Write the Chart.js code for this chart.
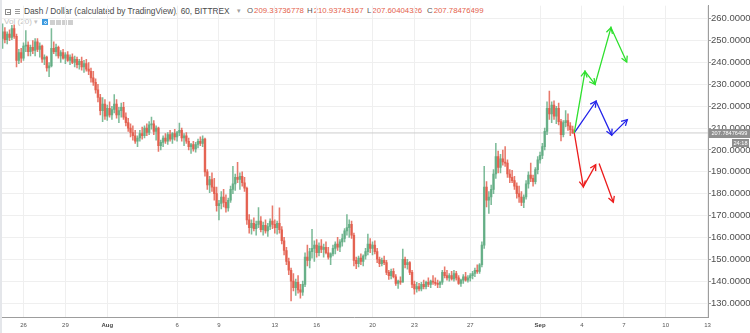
<!DOCTYPE html>
<html>
<head>
<meta charset="utf-8">
<title>Dash / Dollar, 60, BITTREX</title>
<script src="https://cdn.jsdelivr.net/npm/chart.js@4.4.1/dist/chart.umd.min.js"></script>
<style>
  html, body { margin: 0; padding: 0; background: #ffffff; }
  #frame { position: relative; width: 750px; height: 333px; overflow: hidden;
           font-family: "Liberation Sans", Arial, sans-serif; }
  #legend { position: absolute; left: 0; top: 0; width: 750px; height: 40px; z-index: 0; }
  #chartBox { position: absolute; left: 0; top: 0; width: 750px; height: 333px; z-index: 1; }
  #edge { position: absolute; left: 0; top: 0; width: 2px; height: 333px; background: #e4e6ea; z-index: 2; }
  .t { position: absolute; white-space: nowrap; font-size: 8.1px; line-height: 10px; }
  .title { font-size: 8.3px; }
  .v { font-size: 7.8px; }
  .box { position: absolute; box-sizing: border-box; }
</style>
</head>
<body>
<div id="frame">
  <div id="legend">
    <div class="box" style="left:5px;top:9px;width:6px;height:6px;border:1px solid #8c8c8c;"></div>
    <div class="box" style="left:6.5px;top:11.5px;width:3px;height:1px;background:#8c8c8c;"></div>
    <div class="box" style="left:15px;top:9px;width:5px;height:6px;background:repeating-linear-gradient(#9a9a9a 0 1px, transparent 1px 2px);"></div>
    <div class="t title" style="left:24px;top:6px;color:#4b4b4b;">Dash / Dollar (calculated by TradingView), 60, BITTREX</div>
    <div class="t" style="left:237px;top:6px;color:#a0a0a0;font-size:7px;">▾</div>
    <div id="ohlc"></div>
    <div class="t" style="left:4px;top:17px;color:#c4c4c4;">Vol (20) <span style="font-size:7px">▾</span></div>
    <div class="box" style="left:42px;top:19px;width:6px;height:6px;background:#3d9be0;"></div>
    <div class="box" style="left:43.5px;top:20.5px;width:3px;height:3px;border-radius:50%;border:1px solid #ffffff;"></div>
    <div class="box" style="left:50px;top:20px;width:5px;height:5px;background:#cfcfcf;"></div>
    <div class="box" style="left:56px;top:20px;width:5px;height:5px;background:#cfcfcf;"></div>
    <div class="box" style="left:62px;top:20px;width:5px;height:5px;background:#cfcfcf;"></div>
    <div class="box" style="left:68px;top:20px;width:5px;height:5px;background:#cfcfcf;"></div>
  </div>
  <div id="chartBox"><canvas id="chart" width="750" height="333"></canvas></div>
  <div id="edge"></div>
</div>
<script>
// Hourly DASH/USD summarised as 4-hour candles, 24 Jul 12:00 to 3 Sep 08:00.
// Time is measured in days from 26 Jul 00:00.
const firstCandleDay = -1.5;
const candleStepDays = 4 / 24;
const firstOpen = 251;

const closes = [
  254, 250.5, 253, 251.5, 255.5, 252, 241, 244.5, 242, 247.5,
  248, 245, 247, 245.5, 249.5, 246, 247.5, 241.5, 242.5, 237.5,
  238.5, 246.5, 245, 247, 243, 244.5, 242, 243.5, 241, 242.5,
  240, 241.5, 239, 240.5, 238, 239.5, 237, 236, 233, 231,
  227.5, 224, 218, 221, 215.5, 219, 216, 218.5, 221, 216,
  218, 219.5, 215, 212.5, 210, 208, 206.5, 204, 205.5, 207.5,
  206.5, 210, 208, 211.5, 212, 208.5, 210, 202, 203.5, 205.5,
  204, 207, 205, 207.5, 206, 208, 209, 205.5, 206.5, 204,
  201.5, 202.5, 200.5, 202.5, 204, 203, 205, 190, 184, 186.5,
  183, 180, 174.5, 175.5, 178.5, 176, 173.5, 177, 182, 184.5,
  187.5, 186.5, 188, 185, 182.5, 168, 164.5, 166.5, 164, 166,
  167.5, 163.5, 165.5, 163, 165, 167.5, 166, 164.5, 166.5, 163.5,
  158.5, 154, 149, 145, 140, 137, 139.5, 136, 135, 138.5,
  151, 149.5, 153.5, 155, 156.5, 153, 156, 154.5, 155.5, 153,
  151, 152.5, 155, 157, 155.5, 158, 159.5, 163, 164.5, 166,
  161, 149.5, 148, 150.5, 149, 151.5, 153.5, 157, 155, 156.5,
  153.5, 150, 148, 149.5, 148.5, 144, 142.5, 144.5, 142, 139,
  140, 139.5, 150, 147.5, 148.5, 144, 138.5, 136.5, 137.5, 136.5,
  138.5, 137.5, 139.5, 138.5, 140, 139.5, 139, 138.5, 139.5, 144,
  142.5, 141.5, 142.5, 141, 143.5, 141.5, 139, 140.5, 142, 140.5,
  141.5, 142.5, 143.5, 145, 144.5, 147.5, 156.5, 183, 177, 178.5,
  182, 189, 197, 192, 196, 194.5, 194, 189, 187.5, 186,
  183.5, 180, 178.5, 176, 178.5, 184.5, 188.5, 187, 185.5, 191,
  195.5, 197.5, 201.5, 208.5, 219, 216.5, 220.5, 215.5, 219, 213,
  207, 212.5, 213.5, 211, 209.33736778, 207.78476499
];

const highs = [
  257.7, 256, 254, 255, 257, 257.2, 253, 246, 246.5, 249,
  254.6, 249.5, 248, 250, 251, 251, 249, 248, 243.5, 243,
  240, 255.5, 249.5, 248.5, 247.5, 245.5, 246, 244.5, 245, 243.5,
  244, 243, 242.5, 241.5, 242.5, 241, 241.5, 240, 237.5, 236,
  232.5, 230, 225.5, 224, 223, 220.5, 222, 220, 225.4, 223,
  219.5, 221.5, 221.8, 217, 214.5, 212, 211, 209, 206.5, 209,
  210.5, 211, 212, 213, 215, 213.5, 211, 210.5, 204.5, 206.5,
  207.5, 208, 209, 208, 209.5, 208.5, 212.3, 210, 207.5, 208,
  205.5, 203, 204, 203.5, 205, 206, 206.5, 205.5, 191, 188,
  189.5, 187, 183, 177, 181, 182, 179.5, 178, 183.5, 192.5,
  189, 194.3, 189.5, 190, 187.5, 183, 170.5, 168, 169, 167.5,
  173.6, 169.5, 167, 168, 166.5, 168.5, 174.5, 168, 167.5, 173.5,
  165, 160, 155.5, 150.5, 146, 143.5, 141, 142.5, 138.5, 140,
  153, 156.5, 155, 163.7, 158.5, 159, 157.5, 159, 157, 158,
  155.5, 153, 156.5, 158, 160, 159, 161.5, 164, 170.5, 168,
  167.5, 162, 151, 151.5, 152.5, 152, 155, 161.5, 159.5, 158,
  158.5, 155, 151, 150.5, 151.5, 149.5, 145, 145.5, 145.7, 143,
  140.5, 142, 154.7, 151, 150, 149, 145, 140, 139.5, 139,
  139.5, 140.5, 140, 141.5, 140.5, 142.5, 141.5, 140.5, 140, 145,
  146.6, 145, 143.5, 144.5, 145, 144.5, 142.5, 141, 143, 144,
  142.5, 143.5, 144.5, 146, 147.5, 148, 158, 192.5, 185.5, 181,
  184, 191, 203, 199.5, 198, 200, 201.5, 195.5, 191, 190.7,
  188, 185, 183.5, 181, 179.5, 186, 190, 194, 188.5, 192,
  197, 199, 203, 210, 222, 227, 222, 222.5, 220, 221.5,
  214, 213.5, 218, 216.5, 212.5, 210.93743167
];

const lows = [
  246.5, 249, 248.5, 250, 250.5, 251, 238, 239.5, 240, 241,
  245, 243, 243, 244, 243, 245, 242.5, 240, 239, 236,
  233.5, 238, 244, 243, 242, 240, 241.5, 239.5, 240.5, 239,
  239.5, 238, 237.5, 237, 236.5, 235.5, 236, 234.5, 231, 229.5,
  226, 222, 216, 213, 214, 213.5, 215, 214, 217, 214.5,
  212.5, 215, 214, 211, 208.5, 206, 204.5, 203, 201.5, 204,
  205, 205.5, 206.5, 207, 209.5, 207, 204.5, 199.3, 200, 201.5,
  203, 202.5, 204, 203, 204.5, 204, 206.5, 204, 202, 203,
  200, 198.4, 199.5, 199, 201, 202, 201.5, 188, 182, 180.5,
  181, 177, 172, 168, 173, 174, 171.5, 172, 176, 180,
  181.5, 185, 182, 183.5, 181, 166, 162, 161.5, 163, 161,
  164.5, 162.5, 161, 162, 160.5, 163.5, 164, 162, 161.5, 162,
  157, 152, 147.5, 143, 131, 135.5, 133.5, 134.5, 132.2, 133.5,
  137.5, 147, 146, 150.5, 149, 151, 151.5, 153, 151, 152.5,
  150, 147.5, 151.5, 152.5, 154, 153.5, 156, 158, 161, 160,
  159.5, 147, 145.7, 146.5, 147.5, 147, 150, 152, 153, 152,
  152.5, 148.5, 146.6, 147, 147.5, 143, 140.8, 141, 141.5, 138,
  136.7, 138.5, 139.5, 146, 145.5, 143, 137, 134, 135, 135.5,
  135.5, 136.5, 136.5, 137.5, 137, 138.5, 138, 137, 137, 138.5,
  141.5, 140.5, 140, 140.5, 140, 140.5, 138.5, 137.6, 139, 140,
  139.5, 140, 141, 142, 143.5, 143.5, 146.5, 155, 174, 171,
  175, 180, 187, 189.5, 189.5, 193, 192.5, 187.5, 185, 185,
  182, 178, 176, 174.5, 173.6, 177.5, 182.5, 185.5, 183.5, 184.5,
  189, 194, 196, 200, 207, 214, 212.5, 214, 212, 211.5,
  204.2, 206, 210.5, 209, 206.5, 207.60404326
];

// Date axis (days from 26 Jul) and its labels
const tickDays   = [0, 3, 6, 11, 14, 18, 21, 25, 28, 32, 37, 40, 43, 46, 49];
const tickLabels = ['26', '29', 'Aug', '6', '9', '13', '16', '20', '23', '27', 'Sep', '4', '7', '10', '13'];
const monthLabels = ['Aug', 'Sep'];
const priceTicks = [130, 140, 150, 160, 170, 180, 190, 200, 210, 220, 230, 240, 250, 260];

// Projected paths from the last close: [day, price]; null price breaks the path
const scenarioStartDay = 39.45;
const scenarioUp   = [[40.22, 236.0], [40.94, 230.0], [42.08, 256.0], [43.21, 240.2]];
const scenarioFlat = [[41.01, 222.3], [42.13, 206.8], [43.25, 213.9]];
const scenarioDown = [[40.10, 183.2], [40.99, 193.3], [41.1, null], [41.23, 193.8], [42.25, 176.1]];

const countdownText = '24:18';

// ---- view window ----
const X_MIN = -1.683, X_MAX = 49.03;
const Y_MIN = 123.6, Y_MAX = 266.0;

const FONT = '"Liberation Sans", Arial, sans-serif';
const UP = 'rgba(92,170,128,0.8)';
const DOWN = 'rgba(226,88,70,0.8)';

const opens = closes.map((c, i) => (i === 0 ? firstOpen : closes[i - 1]));
const candleDay = i => firstCandleDay + i * candleStepDays;
const last = closes.length - 1;
const lastClose = closes[last];
const candleColors = closes.map((c, i) => (c >= opens[i] ? UP : DOWN));

// OHLC readout of the latest bar
(function () {
  const holder = document.getElementById('ohlc');
  const parts = [['O', opens[last]], ['H', highs[last]], ['L', lows[last]], ['C', closes[last]]];
  const lefts = [247, 307, 367, 427];
  parts.forEach((p, i) => {
    const d = document.createElement('div');
    d.className = 't v';
    d.style.left = lefts[i] + 'px';
    d.style.top = '6px';
    d.innerHTML = '<span style="color:#555">' + p[0] + '</span><span style="color:#e4624c;margin-left:1px">' +
      p[1].toFixed(8) + '</span>';
    holder.appendChild(d);
  });
})();

const toPath = pts => [{ x: scenarioStartDay, y: lastClose }].concat(pts.map(p => ({ x: p[0], y: p[1] })));

// Open chevrons at the end of every drawn segment
const arrowHeads = {
  id: 'arrowHeads',
  afterDatasetsDraw(chart) {
    const ctx = chart.ctx;
    chart.data.datasets.forEach((ds, i) => {
      if (!ds.arrowEnds) return;
      const pts = chart.getDatasetMeta(i).data;
      ctx.save();
      ctx.strokeStyle = ds.borderColor;
      ctx.lineWidth = ds.borderWidth;
      ctx.lineJoin = 'miter';
      for (let j = 1; j < pts.length; j++) {
        const a = pts[j - 1], b = pts[j];
        if (a.skip || b.skip) continue;
        const ang = Math.atan2(b.y - a.y, b.x - a.x);
        const len = 6.5, spread = 0.5;
        ctx.beginPath();
        ctx.moveTo(b.x - len * Math.cos(ang - spread), b.y - len * Math.sin(ang - spread));
        ctx.lineTo(b.x, b.y);
        ctx.lineTo(b.x - len * Math.cos(ang + spread), b.y - len * Math.sin(ang + spread));
        ctx.stroke();
      }
      ctx.restore();
    });
  }
};

// Last-price tag and bar countdown on the price axis
const priceTag = {
  id: 'priceTag',
  afterDraw(chart) {
    const { ctx, chartArea } = chart;
    const y = Math.round(chart.scales.y.getPixelForValue(lastClose));
    const left = chartArea.right + 1;
    const w = chart.width - left;
    ctx.save();
    ctx.fillStyle = '#8f8f8f';
    ctx.fillRect(left, y - 4, w, 9);
    ctx.fillStyle = '#ffffff';
    ctx.font = '5.6px ' + FONT;
    ctx.textBaseline = 'middle';
    ctx.textAlign = 'left';
    ctx.fillText(lastClose.toFixed(8), left + 2.5, y + 0.5);
    ctx.fillStyle = '#8f8f8f';
    ctx.fillRect(chart.width - 18, y + 6, 17, 8);
    ctx.fillStyle = '#ffffff';
    ctx.textAlign = 'center';
    ctx.fillText(countdownText, chart.width - 9.5, y + 10);
    ctx.restore();
  }
};

Chart.defaults.font.family = FONT;

new Chart(document.getElementById('chart'), {
  type: 'bar',
  data: {
    datasets: [
      {
        type: 'line', label: 'up', data: toPath(scenarioUp), arrowEnds: true,
        borderColor: '#2fe02f', borderWidth: 1.3, pointRadius: 0, spanGaps: false, order: 0
      },
      {
        type: 'line', label: 'flat', data: toPath(scenarioFlat), arrowEnds: true,
        borderColor: '#2424ea', borderWidth: 1.3, pointRadius: 0, spanGaps: false, order: 0
      },
      {
        type: 'line', label: 'down', data: toPath(scenarioDown), arrowEnds: true,
        borderColor: '#ec1d1d', borderWidth: 1.3, pointRadius: 0, spanGaps: false, order: 0
      },
      {
        type: 'bar', label: 'body',
        data: closes.map((c, i) => ({ x: candleDay(i), y: [opens[i], c] })),
        backgroundColor: candleColors, borderWidth: 0, barThickness: 1.8, minBarLength: 1,
        grouped: false, order: 2
      },
      {
        type: 'bar', label: 'wick',
        data: closes.map((c, i) => ({ x: candleDay(i), y: [lows[i], highs[i]] })),
        backgroundColor: candleColors, borderWidth: 0, barThickness: 0.9,
        grouped: false, order: 3
      },
      {
        type: 'line', label: 'last',
        data: [{ x: X_MIN, y: lastClose }, { x: X_MAX, y: lastClose }],
        borderColor: '#cdcdcd', borderWidth: 1, pointRadius: 0, order: 5
      }
    ]
  },
  options: {
    responsive: false,
    devicePixelRatio: 1,
    animation: false,
    events: [],
    layout: { padding: 0 },
    plugins: { legend: { display: false }, tooltip: { enabled: false } },
    scales: {
      x: {
        type: 'linear', min: X_MIN, max: X_MAX, offset: false,
        afterBuildTicks: s => { s.ticks = tickDays.map(v => ({ value: v })); },
        afterFit: s => { s.height = 16; },
        ticks: {
          autoSkip: false, maxRotation: 0, padding: 1,
          callback: v => tickLabels[tickDays.indexOf(v)],
          font: c => ({ family: FONT, size: 6, weight: monthLabels.includes(tickLabels[c.index]) ? 'bold' : 'normal' }),
          color: c => (monthLabels.includes(tickLabels[c.index]) ? '#444' : '#555')
        },
        grid: { color: '#efefef', offset: false, tickLength: 4, tickColor: 'rgba(0,0,0,0)' },
        border: { color: '#9d9d9d', width: 1 }
      },
      y: {
        type: 'linear', position: 'right', min: Y_MIN, max: Y_MAX,
        afterBuildTicks: s => { s.ticks = priceTicks.map(v => ({ value: v })); },
        afterFit: s => { s.width = 42; },
        ticks: {
          padding: 0, color: '#4f4f4f', font: { family: FONT, size: 9.5 },
          callback: v => Number(v).toFixed(4)
        },
        grid: { color: '#efefef', tickLength: 3, tickColor: '#9d9d9d' },
        border: { color: '#9d9d9d', width: 1 }
      }
    }
  },
  plugins: [arrowHeads, priceTag]
});
</script>
</body>
</html>
